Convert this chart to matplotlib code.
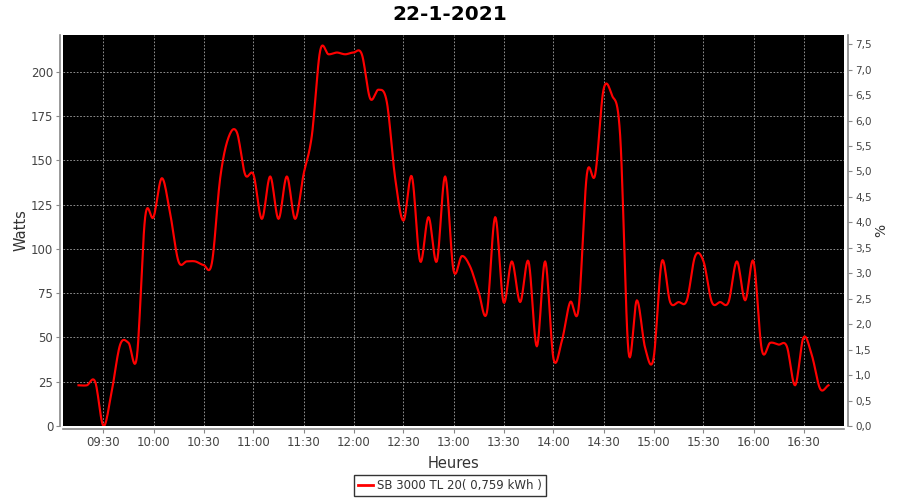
import numpy as np
import pandas as pd
import matplotlib
matplotlib.use("Agg")
import matplotlib.pyplot as plt
import matplotlib.dates as mdates
from matplotlib.ticker import FuncFormatter, MultipleLocator
from matplotlib.lines import Line2D

# ---------------- data ----------------
times = ["09:15", "09:20", "09:25", "09:30", "09:35", "09:40", "09:45", "09:50", "09:55",
         "10:00", "10:05", "10:10", "10:15", "10:20", "10:25", "10:30", "10:35", "10:40",
         "10:45", "10:50", "10:55", "11:00", "11:05", "11:10", "11:15", "11:20", "11:25",
         "11:30", "11:35", "11:40", "11:45", "11:50", "11:55", "12:00", "12:05", "12:10",
         "12:15", "12:20", "12:25", "12:30", "12:35", "12:40", "12:45", "12:50", "12:55",
         "13:00", "13:05", "13:10", "13:15", "13:20", "13:25", "13:30", "13:35", "13:40",
         "13:45", "13:50", "13:55", "14:00", "14:05", "14:10", "14:15", "14:20", "14:25",
         "14:30", "14:35", "14:40", "14:45", "14:50", "14:55", "15:00", "15:05", "15:10",
         "15:15", "15:20", "15:25", "15:30", "15:35", "15:40", "15:45", "15:50", "15:55",
         "16:00", "16:05", "16:10", "16:15", "16:20", "16:25", "16:30", "16:35", "16:40",
         "16:45"]
watts = [23, 23, 25, 0, 20, 46, 47, 39, 118,
         118, 140, 120, 93, 93, 93, 91, 92, 140,
         163, 166, 142, 142, 117, 141, 117, 141, 117,
         142, 164, 212, 210, 211, 210, 211, 210, 185,
         190, 183, 140, 116, 141, 93, 118, 93, 141,
         88, 96, 90, 76, 64, 118, 70, 93, 70,
         93, 45, 93, 38, 48, 70, 66, 142, 142,
         190, 187, 164, 42, 71, 44, 38, 93, 70,
         70, 71, 96, 93, 70, 70, 70, 93, 71,
         93, 43, 47, 46, 45, 23, 50, 40, 21,
         23]
x_ticks = ["09:30", "10:00", "10:30", "11:00", "11:30", "12:00", "12:30", "13:00",
           "13:30", "14:00", "14:30", "15:00", "15:30", "16:00", "16:30"]
title = "22-1-2021"
series_label = "SB 3000 TL 20( 0,759 kWh )"
day = "2021-01-22 "

# ---------------- helpers ----------------
def catmull_rom(x, y, n=12):
    x = np.asarray(x, float); y = np.asarray(y, float)
    px = np.concatenate([[2*x[0]-x[1]], x, [2*x[-1]-x[-2]]])
    py = np.concatenate([[2*y[0]-y[1]], y, [2*y[-1]-y[-2]]])
    xs, ys = [], []
    t = np.linspace(0, 1, n, endpoint=False)
    for i in range(1, len(px)-2):
        p0, p1, p2, p3 = py[i-1], py[i], py[i+1], py[i+2]
        q0, q1, q2, q3 = px[i-1], px[i], px[i+1], px[i+2]
        ys.append(0.5*((2*p1) + (-p0+p2)*t + (2*p0-5*p1+4*p2-p3)*t**2 + (-p0+3*p1-3*p2+p3)*t**3))
        xs.append(0.5*((2*q1) + (-q0+q2)*t + (2*q0-5*q1+4*q2-q3)*t**2 + (-q0+3*q1-3*q2+q3)*t**3))
    xs.append([x[-1]]); ys.append([y[-1]])
    return np.concatenate(xs), np.concatenate(ys)

tx = mdates.date2num(pd.to_datetime([day + t for t in times]).to_pydatetime())
sx, sy = catmull_rom(tx, watts)

# ---------------- figure ----------------
plt.rcParams['font.family'] = ['DejaVu Sans']
fig = plt.figure(figsize=(9, 5), dpi=100)
ax = fig.add_axes([63/900, 74/500, (844-63)/900, (426-35)/500])
ax.set_facecolor('black')

ax.plot(mdates.num2date(sx), sy, color='#ff0000', lw=1.55, solid_joinstyle='round')

x0 = pd.Timestamp(day + "09:05:42")
x1 = pd.Timestamp(day + "16:54:18")
ax.set_xlim(x0, x1)
ax.set_ylim(0, 220.9)

xt = pd.to_datetime([day + t for t in x_ticks])
ax.set_xticks(xt)
ax.set_xticklabels(x_ticks)
ax.yaxis.set_major_locator(MultipleLocator(25))

gcol = '#a6a6a6'
ax.grid(True, color=gcol, linestyle=(0, (2, 2)), linewidth=0.6)

spcol = '#888888'
for s in ['top', 'right']:
    ax.spines[s].set_visible(False)
for s in ['left', 'bottom']:
    ax.spines[s].set_color(spcol)
    ax.spines[s].set_linewidth(1.2)
    ax.spines[s].set_position(('outward', 2))

ax.tick_params(axis='both', colors=spcol, labelcolor='#444444', labelsize=8.5,
               length=3, width=0.8, pad=2)

ax.set_xlabel("Heures", fontsize=10.5, color='#333333', labelpad=5)
ax.set_ylabel("Watts", fontsize=10.5, color='#333333', labelpad=2)

# right axis (%)
ax2 = ax.twinx()
ax2.set_ylim(0, 7.68)
ax2.yaxis.set_major_locator(MultipleLocator(0.5))
ax2.yaxis.set_major_formatter(FuncFormatter(lambda v, p: f"{v:.1f}".replace('.', ',')))
for s in ['top', 'left', 'bottom']:
    ax2.spines[s].set_visible(False)
ax2.spines['right'].set_color(spcol)
ax2.spines['right'].set_linewidth(1.2)
ax2.spines['right'].set_position(('outward', 3))
ax2.tick_params(axis='y', colors=spcol, labelcolor='#444444', labelsize=7.5,
                length=3, width=0.8, pad=2)
ax2.set_ylabel("%", fontsize=10, color='#333333', labelpad=2)

fig.suptitle(title, fontsize=14.5, fontweight='bold', y=0.99, x=0.5)

handle = Line2D([], [], color='#ff0000', lw=2)
leg = fig.legend([handle], [series_label], loc='lower center', bbox_to_anchor=(0.5, 0.0),
                 fontsize=8.5, frameon=True, fancybox=False, edgecolor='black',
                 handlelength=1.3, handletextpad=0.3, borderpad=0.35, borderaxespad=0.3)
leg.get_frame().set_linewidth(1.0)
for t in leg.get_texts():
    t.set_color('#333333')

fig.savefig("out.png", dpi=100)
